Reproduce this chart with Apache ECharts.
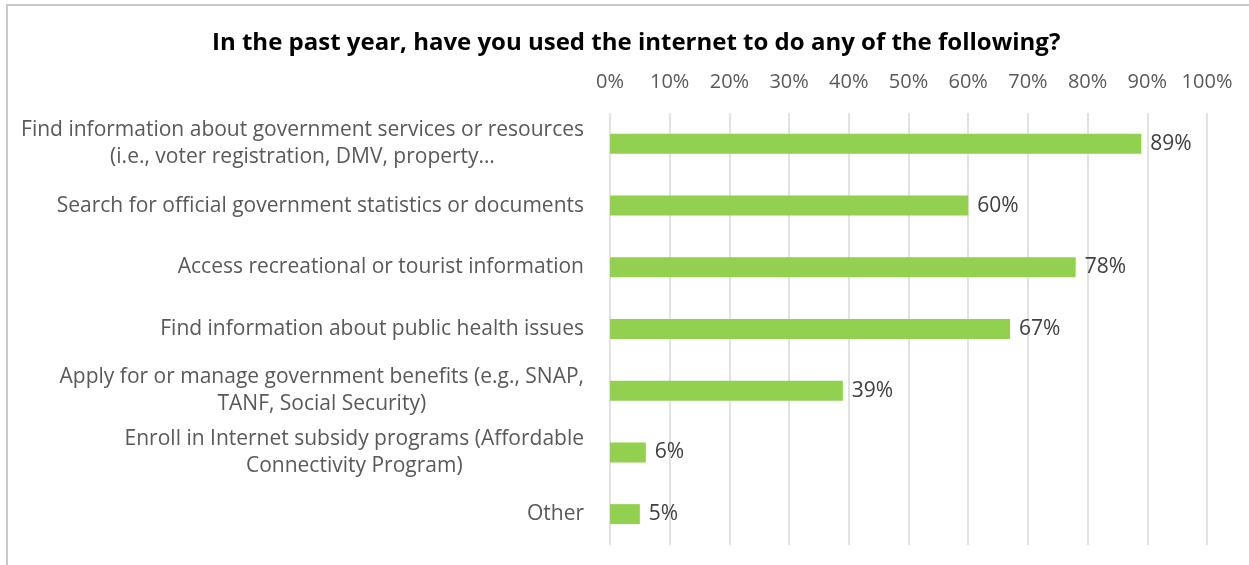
<!DOCTYPE html>
<html>
<head>
<meta charset="utf-8">
<script src="https://cdn.jsdelivr.net/npm/echarts@6/dist/echarts.min.js"></script>
<style>
  html, body { margin: 0; padding: 0; background: #fff; overflow: hidden; }
  #frame { position: absolute; left: 6px; top: 4px; width: 1400px; height: 800px;
           border-top: 2px solid #c9c9c9; border-left: 2px solid #c9c9c9; }
  #chart { position: absolute; left: 0; top: 0; width: 1249px; height: 565px; }
</style>
</head>
<body>
<div id="frame"></div>
<div id="chart"></div>
<script>
// survey answers, top to bottom
const categories = [
  'Find information about government services or resources\n(i.e., voter registration, DMV, property\u2026',
  'Search for official government statistics or documents',
  'Access recreational or tourist information',
  'Find information about public health issues',
  'Apply for or manage government benefits (e.g., SNAP,\nTANF, Social Security)',
  'Enroll in Internet subsidy programs (Affordable\nConnectivity Program)',
  'Other'
];
const percentValues = [89, 60, 78, 67, 39, 6, 5];
const tickValues = [0, 10, 20, 30, 40, 50, 60, 70, 80, 90, 100];

const FONT = '"Open Sans", Calibri, sans-serif';

const chart = echarts.init(document.getElementById('chart'));
chart.setOption({
  animation: false,
  title: {
    text: 'In the past year, have you used the internet to do any of the following?',
    left: 207,
    top: 26,
    textStyle: { fontFamily: FONT, fontSize: 24, fontWeight: 'bold', color: '#000' }
  },
  grid: { left: 610, right: 42, top: 113, bottom: 20, containLabel: false },
  xAxis: {
    type: 'value',
    position: 'top',
    min: tickValues[0],
    max: tickValues[tickValues.length - 1],
    interval: 10,
    axisLine: { show: false },
    axisTick: { show: false },
    axisLabel: {
      margin: 21,
      fontFamily: FONT, fontSize: 20, color: '#595959',
      formatter: v => v + '%'
    },
    splitLine: { lineStyle: { color: '#d9d9d9', width: 1.5 } }
  },
  yAxis: {
    type: 'category',
    inverse: true,
    data: categories,
    axisLine: { show: false },
    axisTick: { show: false },
    axisLabel: {
      margin: 26,
      align: 'right',
      formatter: v => v.split('\n').map(s => '{c|' + s + '}').join('\n'),
      rich: {
        c: { align: 'center', fontFamily: FONT, fontSize: 21, color: '#595959', lineHeight: 27 }
      }
    }
  },
  series: [{
    type: 'bar',
    data: percentValues,
    barWidth: 20,
    itemStyle: { color: '#92d050' },
    label: {
      show: true,
      position: 'right',
      distance: 9,
      fontFamily: FONT, fontSize: 21, color: '#404040',
      formatter: p => p.value + '%'
    }
  }]
});
</script>
</body>
</html>
